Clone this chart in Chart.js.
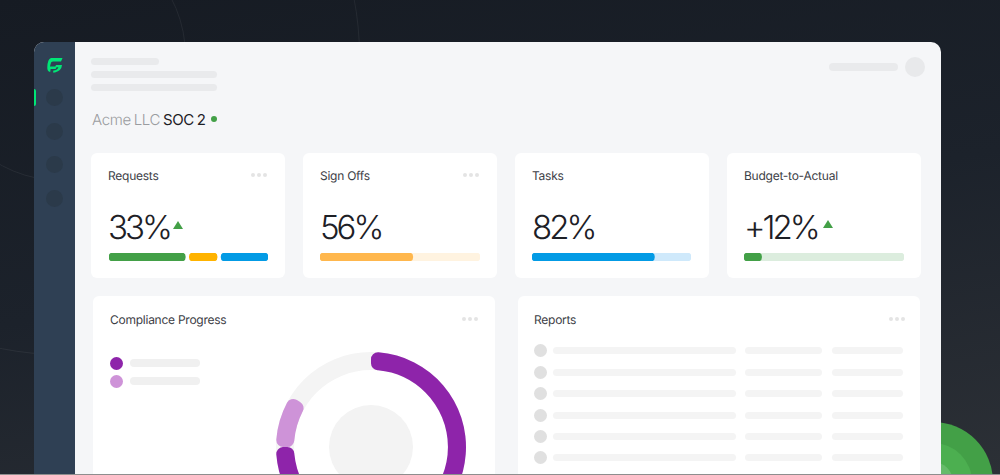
<!DOCTYPE html>
<html>
<head>
<meta charset="utf-8">
<title>Acme LLC SOC 2</title>
<script src="https://cdn.jsdelivr.net/npm/chart.js@4"></script>
<style>
  html, body { margin: 0; width: 1000px; height: 475px; overflow: hidden; }
  body { position: relative; background: linear-gradient(170deg, #161b23 0%, #1c222b 50%, #2c3036 100%); font-family: Inter, sans-serif; text-rendering: geometricPrecision; }
  div, canvas, svg, span { position: absolute; }
  canvas { display: block; }
  .ring { border: 1px solid rgba(255,255,255,.06); border-radius: 50%; }
  .bar { background: #e9eaec; border-radius: 4px; height: 8px; }
  .card { background: #fff; border-radius: 6px; }
  .title { font-size: 12px; line-height: 16px; color: #3d4046; white-space: nowrap; letter-spacing: -.25px; }
  .big { font-size: 33px; line-height: 40px; font-weight: 300; color: #1d2026; white-space: nowrap; letter-spacing: -3px; }
  .dot { width: 4px; height: 4px; border-radius: 50%; background: #e4e4e4; }
  .tri { width: 0; height: 0; border-left: 5px solid transparent; border-right: 5px solid transparent; border-bottom: 8px solid #43a047; }
  .circle { border-radius: 50%; }
</style>
</head>
<body>
<div id="page"></div>
<script>
const requestsLabels = ["Done", "Pending", "Open"];
const requestsRanges = [[0, 48], [50.5, 68], [70.5, 100]];
const requestsColors = ["#43a047", "#ffb300", "#039be5"];

const signOffsValue = [58];
const tasksValue = [77];
const budgetValue = [11];
const fullTrack = [100];

const complianceLabels = ["Review", "Remaining", "Complete"];
const complianceValues = [9, 16, 75];
const complianceColors = ["#ce93d8", "rgba(0,0,0,0)", "#8e24aa"];

const cardTitles = ["Requests", "Sign Offs", "Tasks", "Budget-to-Actual"];
const cardFigures = ["33%", "56%", "82%", "+12%"];
const cardX = [91, 303, 515, 727];

const page = document.getElementById("page");

function add(cls, x, y, w, h, bg, text) {
  const el = document.createElement("div");
  el.className = cls;
  el.style.left = x + "px";
  el.style.top = y + "px";
  if (w != null) el.style.width = w + "px";
  if (h != null) el.style.height = h + "px";
  if (bg) el.style.background = bg;
  if (text) el.textContent = text;
  page.appendChild(el);
  return el;
}

function addCanvas(x, y, w, h) {
  const c = document.createElement("canvas");
  c.width = w;
  c.height = h;
  c.style.left = x + "px";
  c.style.top = y + "px";
  c.style.width = w + "px";
  c.style.height = h + "px";
  page.appendChild(c);
  return c;
}

function threeDots(x, y) {
  add("dot", x, y, null, null);
  add("dot", x + 6, y, null, null);
  add("dot", x + 12, y, null, null);
}

// background
add("ring", -64, -69, 248, 248);
add("ring", -239, -244, 597, 597);
add("circle", 873, 422, 120, 120, "#43a047");
add("circle", 894, 443, 78, 78, "#4caf50");
add("circle", 913, 462, 40, 40, "#66bb6a");

// window
const win = add("", 34, 42, 907, 460, "#f5f6f8");
win.style.borderRadius = "10px";
const side = add("", 34, 42, 41, 460, "#2f4054");
side.style.borderRadius = "10px 0 0 0";
add("", 34, 89, 2, 17, "#00e676").style.borderRadius = "0 2px 2px 0";
[97, 131, 164, 198].forEach(y => add("circle", 46, y - 8, 17, 17, "#2b3a4a"));

const logo = document.createElementNS("http://www.w3.org/2000/svg", "svg");
logo.setAttribute("viewBox", "0 0 16 15");
logo.setAttribute("width", "16");
logo.setAttribute("height", "15");
logo.style.left = "47px";
logo.style.top = "58px";
logo.innerHTML = '<path fill="#00e676" d="M4 0 H15.5 L14 3.6 H6 Q4 3.6 3.6 6 L3 8.6 H10 L8.6 11 H3.6 L3.2 14 Q0 13.4 0.3 9 Q0.6 1.2 4 0 Z M9 7 H15 Q14.6 12.6 8 14.6 H6 L6.4 12.6 Q10.6 12 11.4 9.2 H8 Z"/>';
page.appendChild(logo);

// header placeholders
add("bar", 91, 58, 68, 7);
add("bar", 91, 71, 126, 7);
add("bar", 91, 84, 126, 7);
add("bar", 829, 63, 69, 8);
add("circle", 905, 57, 20, 20, "#e8e9eb");

const head = add("title", 92, 110, null, 20);
head.style.fontSize = "15px";
head.style.lineHeight = "20px";
head.style.fontWeight = "300";
head.style.letterSpacing = "-.35px";
head.style.wordSpacing = "-1px";
head.innerHTML = '<span style="position:static;color:#9a9ca0">Acme LLC</span> <span style="position:static;color:#1d2026;font-weight:400">SOC 2</span>';
add("circle", 211, 116, 6, 6, "#43a047");

// KPI cards
cardX.forEach((x, i) => {
  add("card", x, 153, 194, 125);
  add("title", x + 17, 168, null, null, null, cardTitles[i]);
  add("big", x + 17, 207, null, null, null, cardFigures[i]);
});
threeDots(251, 173);
threeDots(463, 173);
add("tri", 173, 221);
add("tri", 823, 220);

// lower cards
add("card", 93, 296, 402, 200);
add("card", 518, 296, 402, 200);
add("title", 110, 312, null, null, null, "Compliance Progress");
add("title", 534, 312, null, null, null, "Reports");
threeDots(462, 317);
threeDots(889, 317);

add("circle", 110, 357, 13, 13, "#8e24aa");
add("circle", 110, 375, 13, 13, "#ce93d8");
add("bar", 130, 359, 70, 8, "#f0f0f0");
add("bar", 130, 377, 70, 8, "#f0f0f0");

[350.5, 372, 393.5, 415, 436, 457.5].forEach(y => {
  add("circle", 534, y - 6.5, 13, 13, "#e0e0e0");
  add("bar", 553, y - 3.5, 183, 7, "#f4f4f4");
  add("bar", 745, y - 3.5, 77, 7, "#f4f4f4");
  add("bar", 832, y - 3.5, 71, 7, "#f4f4f4");
});

add("circle", 329, 405, 84, 84, "#f3f3f3");

// bars
const barBase = {
  indexAxis: "y",
  responsive: false,
  animation: false,
  devicePixelRatio: 1,
  layout: { padding: 0 },
  plugins: { legend: { display: false }, tooltip: { enabled: false } },
  grouped: false,
  scales: {
    x: { display: false, min: 0, max: 100 },
    y: { display: false },
  },
};

function progressBar(x, y, w, value, color, trackColor) {
  new Chart(addCanvas(x, y, w, 8), {
    type: "bar",
    data: {
      labels: ["value"],
      datasets: [
        { data: value, backgroundColor: color, borderRadius: 4, borderSkipped: false, barPercentage: 1, categoryPercentage: 1, order: 1 },
        { data: fullTrack, backgroundColor: trackColor, borderRadius: 4, borderSkipped: false, barPercentage: 1, categoryPercentage: 1, order: 2 },
      ],
    },
    options: barBase,
  });
}

new Chart(addCanvas(109, 253, 159, 8), {
  type: "bar",
  data: {
    labels: ["value"],
    datasets: requestsLabels.map((label, i) => ({
      label: label,
      data: [requestsRanges[i]],
      backgroundColor: requestsColors[i],
      borderRadius: 4,
      borderSkipped: false,
      barPercentage: 1,
      categoryPercentage: 1,
    })),
  },
  options: barBase,
});

progressBar(320, 253, 160, signOffsValue, "#ffb74d", "#fff3e0");
progressBar(532, 253, 159, tasksValue, "#039be5", "#cfe9fb");
progressBar(744, 253, 160, budgetValue, "#43a047", "#dcedde");

// doughnut
const ringBase = {
  responsive: false,
  animation: false,
  devicePixelRatio: 1,
  radius: 95,
  cutout: 81,
  layout: { padding: 0 },
  plugins: { legend: { display: false }, tooltip: { enabled: false } },
};

new Chart(addCanvas(271, 347, 200, 200), {
  type: "doughnut",
  data: { labels: ["track"], datasets: [{ data: fullTrack, backgroundColor: "#f4f4f4", borderWidth: 0 }] },
  options: ringBase,
});

new Chart(addCanvas(271, 347, 200, 200), {
  type: "doughnut",
  data: {
    labels: complianceLabels,
    datasets: [{ data: complianceValues, backgroundColor: complianceColors, borderWidth: 0, borderRadius: 7 }],
  },
  options: { ...ringBase, rotation: 270 },
});

add("", 0, 474, 1000, 1, "#8e8e8e");
</script>
</body>
</html>
